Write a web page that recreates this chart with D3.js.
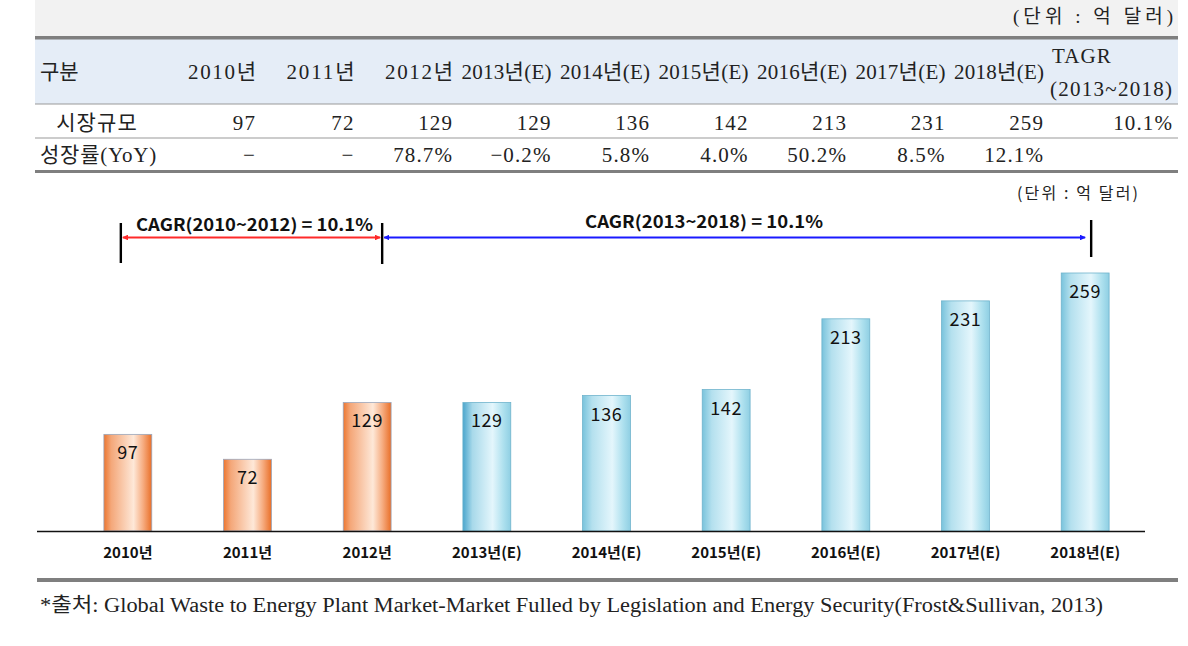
<!DOCTYPE html>
<html><head><meta charset="utf-8">
<script src="https://cdn.jsdelivr.net/npm/d3@7"></script>
<style>
html,body{margin:0;padding:0;background:#fff;}
svg{display:block;}
.serif{font-family:"Liberation Serif","DejaVu Serif","Noto Sans CJK KR",serif;}
.sans{font-family:"Malgun Gothic","Noto Sans CJK KR","Noto Sans",sans-serif;}
</style></head>
<body>
<svg id="c" width="1188" height="646"></svg>
<script>
// ---- data ----
const categories = ["2010년","2011년","2012년","2013년(E)","2014년(E)","2015년(E)","2016년(E)","2017년(E)","2018년(E)"];
const marketSize = [97,72,129,129,136,142,213,231,259];
const growth = ["−","−","78.7%","−0.2%","5.8%","4.0%","50.2%","8.5%","12.1%"];
const forecastFlag = [false,false,false,true,true,true,true,true,true];
const tagrLabel = ["TAGR","(2013~2018)"];
const tagrValue = "10.1%";
const rowLabels = ["구분","시장규모","성장률(YoY)"];
const unitLabel = "(단위 : 억 달러)";
const cagrLabels = ["CAGR(2010~2012) = 10.1%","CAGR(2013~2018) = 10.1%"];
const source = "*출처: Global Waste to Energy Plant Market-Market Fulled by Legislation and Energy Security(Frost&Sullivan, 2013)";

const svg = d3.select("#c");

// ---- table ----
const tL = 35, tR = 1178;
svg.append("rect").attr("x",tL).attr("y",0).attr("width",tR-tL).attr("height",37).attr("fill","#f2f2f2");
svg.append("text").attr("class","serif").attr("x",1173).attr("y",23).attr("text-anchor","end")
  .attr("font-size",19).attr("fill","#222").attr("textLength",160).attr("lengthAdjust","spacing").text(unitLabel);
svg.append("rect").attr("x",tL).attr("y",39).attr("width",tR-tL).attr("height",65).attr("fill","#e5edf7");
svg.append("rect").attr("x",tL).attr("y",36).attr("width",tR-tL).attr("height",3.5).attr("fill","#7f7f7f");
svg.append("line").attr("x1",tL).attr("x2",tR).attr("y1",104).attr("y2",104).attr("stroke","#9a9a9a").attr("stroke-width",1.2);
svg.append("line").attr("x1",tL).attr("x2",tR).attr("y1",138).attr("y2",138).attr("stroke","#9a9a9a").attr("stroke-width",1.2);
svg.append("rect").attr("x",tL).attr("y",170).attr("width",tR-tL).attr("height",3).attr("fill","#7f7f7f");

const colX = d3.scaleLinear().domain([0,8]).range([256,1044]);
const tfont = 21;
const tls = 1.1;
svg.append("text").attr("class","serif").attr("x",40).attr("y",79).attr("font-size",tfont).attr("fill","#222").text(rowLabels[0]);
svg.append("text").attr("class","serif").attr("x",97).attr("y",130).attr("text-anchor","middle").attr("font-size",tfont).attr("letter-spacing",tls).attr("fill","#222").text(rowLabels[1]);
svg.append("text").attr("class","serif").attr("x",40).attr("y",162).attr("font-size",tfont).attr("letter-spacing",0.8).attr("fill","#222").text(rowLabels[2]);

const cols = svg.append("g");
categories.forEach((c,i)=>{
  cols.append("text").attr("class","serif").attr("x",colX(i)).attr("y",79).attr("text-anchor","end")
    .attr("font-size",tfont).attr("fill","#222").attr("textLength",i<3?68:90).attr("lengthAdjust","spacing").text(c);
  cols.append("text").attr("class","serif").attr("x",colX(i)).attr("y",130).attr("text-anchor","end")
    .attr("font-size",tfont).attr("fill","#222").attr("letter-spacing",tls).text(marketSize[i]);
  cols.append("text").attr("class","serif").attr("x",colX(i)).attr("y",162).attr("text-anchor","end")
    .attr("font-size",tfont).attr("fill","#222").attr("letter-spacing",tls).text(growth[i]);
});
svg.append("text").attr("class","serif").attr("x",1052).attr("y",63).attr("font-size",tfont).attr("fill","#222").attr("letter-spacing",tls).text(tagrLabel[0]);
svg.append("text").attr("class","serif").attr("x",1050).attr("y",96).attr("font-size",tfont).attr("fill","#222")
  .attr("textLength",122).attr("lengthAdjust","spacing").text(tagrLabel[1]);
svg.append("text").attr("class","serif").attr("x",1173).attr("y",130).attr("text-anchor","end").attr("font-size",tfont).attr("fill","#222").attr("letter-spacing",tls).text(tagrValue);

// ---- chart ----
const defs = svg.append("defs");
function grad(id, stops){
  const g = defs.append("linearGradient").attr("id",id).attr("x1","0").attr("x2","1").attr("y1","0").attr("y2","0");
  stops.forEach(s=>g.append("stop").attr("offset",s[0]).attr("stop-color",s[1]));
}
grad("gOrange",[[0,"#ec7630"],[0.15,"#f4a779"],[0.62,"#fee8d8"],[0.82,"#f6ac80"],[1,"#e96f28"]]);
grad("gBlue",[[0,"#79c3dc"],[0.2,"#b4e0ee"],[0.62,"#e4f6fc"],[0.85,"#ade0ee"],[1,"#8fcfe3"]]);
grad("gBlue0",[[0,"#4ba6cd"],[0.2,"#a8d9ea"],[0.62,"#e4f6fc"],[0.85,"#ade0ee"],[1,"#8fcfe3"]]);

const x = d3.scaleBand().domain(categories).range([68,1145]).paddingInner(0.6).paddingOuter(0.3);
const y = d3.scaleLinear().domain([0,259]).range([531,273]);

svg.append("g").selectAll("rect").data(categories).join("rect")
  .attr("x",d=>x(d)).attr("width",x.bandwidth())
  .attr("y",(d,i)=>y(marketSize[i])).attr("height",(d,i)=>y(0)-y(marketSize[i]))
  .attr("fill",(d,i)=>!forecastFlag[i]?"url(#gOrange)":(i===3?"url(#gBlue0)":"url(#gBlue)"))
  .attr("stroke",(d,i)=>forecastFlag[i]?"#6fb3cc":"#9aa6bb").attr("stroke-width",0.8);

svg.append("g").selectAll("text").data(categories).join("text").attr("class","sans")
  .attr("x",d=>x(d)+x.bandwidth()/2).attr("y",(d,i)=>y(marketSize[i])+25)
  .attr("text-anchor","middle").attr("font-size",18).attr("letter-spacing",0.6).attr("fill","#111")
  .text((d,i)=>marketSize[i]);

const xAxis = svg.append("g").attr("transform",`translate(0,${y(0)})`)
  .call(d3.axisBottom(x).tickSize(0).tickPadding(16));
xAxis.select(".domain").remove();
xAxis.selectAll("text").attr("class","sans").attr("font-size",15).attr("font-weight","bold").attr("fill","#111");
svg.append("line").attr("x1",37).attr("x2",1145).attr("y1",y(0)+0.5).attr("y2",y(0)+0.5).attr("stroke","#111").attr("stroke-width",1.3);

// unit
svg.append("text").attr("class","sans").attr("x",1138).attr("y",199).attr("text-anchor","end")
  .attr("font-size",16).attr("fill","#222").attr("textLength",121).attr("lengthAdjust","spacing").text(unitLabel);

// CAGR markers
const mk = (id,col)=>{
  defs.append("marker").attr("id",id).attr("viewBox","0 0 10 10").attr("refX",9).attr("refY",5)
    .attr("markerWidth",3.2).attr("markerHeight",3.2).attr("orient","auto-start-reverse")
    .append("path").attr("d","M0,0L10,5L0,10z").attr("fill",col);
};
mk("arR","#ff2a2a"); mk("arB","#1a1aff");
const xl = x(categories[0]) + x.bandwidth()/2 - 7;
const xm = (x(categories[2]) + x.bandwidth()/2) + 15;
const xr = x(categories[8]) + x.bandwidth()/2 + 6;
[[xl,223,263],[xm,223,264],[xr,220,257]].forEach(v=>{
  svg.append("line").attr("x1",v[0]).attr("x2",v[0]).attr("y1",v[1]).attr("y2",v[2]).attr("stroke","#000").attr("stroke-width",2.4);
});
svg.append("line").attr("x1",xl+2).attr("x2",xm-2).attr("y1",237.5).attr("y2",237.5)
  .attr("stroke","#ff2a2a").attr("stroke-width",1.8).attr("marker-start","url(#arR)").attr("marker-end","url(#arR)");
svg.append("line").attr("x1",xm+2).attr("x2",xr-6).attr("y1",237.5).attr("y2",237.5)
  .attr("stroke","#1a1aff").attr("stroke-width",1.8).attr("marker-start","url(#arB)").attr("marker-end","url(#arB)");
svg.append("text").attr("class","sans").attr("x",136).attr("y",231)
  .attr("font-size",17).attr("font-weight","bold").attr("fill","#111")
  .attr("textLength",237).attr("lengthAdjust","spacingAndGlyphs").text(cagrLabels[0]);
svg.append("text").attr("class","sans").attr("x",585).attr("y",228)
  .attr("font-size",17).attr("font-weight","bold").attr("fill","#111")
  .attr("textLength",238).attr("lengthAdjust","spacingAndGlyphs").text(cagrLabels[1]);

// bottom
svg.append("rect").attr("x",37).attr("y",578).attr("width",1141).attr("height",4).attr("fill","#7f7f7f");
svg.append("text").attr("class","serif").attr("x",40).attr("y",612).attr("font-size",20).attr("fill","#222")
  .attr("textLength",1063).attr("lengthAdjust","spacingAndGlyphs").text(source);
</script>
</body></html>
